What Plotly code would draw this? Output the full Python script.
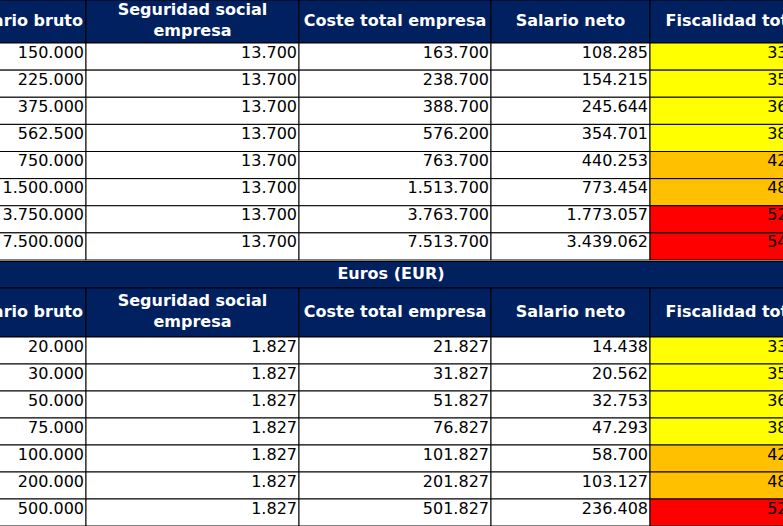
import plotly.graph_objects as go

# ---------------- data ----------------
band_label = "Euros (EUR)"
headers = ["Salario bruto", "Seguridad social<br>empresa", "Coste total empresa",
           "Salario neto", "Fiscalidad total"]

bruto_1 = [150000, 225000, 375000, 562500, 750000, 1500000, 3750000, 7500000]
ss_1 = [13700, 13700, 13700, 13700, 13700, 13700, 13700, 13700]
coste_1 = [163700, 238700, 388700, 576200, 763700, 1513700, 3763700, 7513700]
neto_1 = [108285, 154215, 245644, 354701, 440253, 773454, 1773057, 3439062]
fiscal_1 = [33.9, 35.4, 36.8, 38.4, 42.4, 48.9, 52.9, 54.2]

bruto_2 = [20000, 30000, 50000, 75000, 100000, 200000, 500000]
ss_2 = [1827, 1827, 1827, 1827, 1827, 1827, 1827]
coste_2 = [21827, 31827, 51827, 76827, 101827, 201827, 501827]
neto_2 = [14438, 20562, 32753, 47293, 58700, 103127, 236408]
fiscal_2 = [33.9, 35.4, 36.8, 38.4, 42.4, 48.9, 52.9]

# ---------------- style / layout ----------------
W, H = 783, 526
NAVY = "#002060"
FONT = "DejaVu Sans"
col_edges = [-38, 86, 299, 491, 650, 820]
hdr1 = (0, 43)
row_h1 = 27.125
band = (261.5, 288)
hdr2 = (288, 337)
row_h2 = 27.0
pad = 2
data_shift = -3
DATA_SIZE = 16
HEAD_SIZE = 16


def fmt(v):
    return f"{v:,}".replace(",", ".")


def fmt_pct(v):
    return f"{v:.1f}%".replace(".", ",")


def fiscal_color(v):
    if v < 40:
        return "#FFFF00"
    if v < 50:
        return "#FFC000"
    return "#FF0000"


shapes = []
hx, hy, ht = [], [], []
dx, dy, dt = [], [], []


def rect(x0, x1, y0, y1, fill):
    shapes.append(dict(type="rect", xref="x", yref="y", x0=x0, x1=x1, y0=y0, y1=y1,
                       fillcolor=fill, line=dict(color="black", width=1), layer="below"))


def header_row(y0, y1):
    for i, h in enumerate(headers):
        rect(col_edges[i], col_edges[i + 1], y0, y1, NAVY)
        hx.append((col_edges[i] + col_edges[i + 1]) / 2)
        hy.append((y0 + y1) / 2)
        ht.append(h)


def data_block(y_start, rh, cols, fiscal):
    n = len(cols[0])
    for r in range(n):
        y0 = y_start + r * rh
        y1 = y0 + rh
        vals = [fmt(c[r]) for c in cols] + [fmt_pct(fiscal[r])]
        fills = ["white"] * len(cols) + [fiscal_color(fiscal[r])]
        for i, v in enumerate(vals):
            rect(col_edges[i], col_edges[i + 1], y0, y1, fills[i])
            dx.append(col_edges[i + 1] - pad)
            dy.append((y0 + y1) / 2 + data_shift)
            dt.append(v)


header_row(*hdr1)
data_block(hdr1[1], row_h1, [bruto_1, ss_1, coste_1, neto_1], fiscal_1)
rect(col_edges[0], col_edges[-1], band[0], band[1], NAVY)
header_row(*hdr2)
data_block(hdr2[1], row_h2, [bruto_2, ss_2, coste_2, neto_2], fiscal_2)

fig = go.Figure()
fig.add_trace(go.Scatter(x=hx, y=hy, text=ht, mode="text", textposition="middle center",
                         textfont=dict(family=FONT, size=HEAD_SIZE, color="white", weight="bold"),
                         hoverinfo="skip", showlegend=False))
fig.add_trace(go.Scatter(x=[(col_edges[0] + col_edges[-1]) / 2], y=[(band[0] + band[1]) / 2],
                         text=[band_label], mode="text", textposition="middle center",
                         textfont=dict(family=FONT, size=HEAD_SIZE, color="white", weight="bold"),
                         hoverinfo="skip", showlegend=False))
fig.add_trace(go.Scatter(x=dx, y=dy, text=dt, mode="text", textposition="middle left",
                         textfont=dict(family=FONT, size=DATA_SIZE, color="black"),
                         hoverinfo="skip", showlegend=False))

fig.update_layout(
    width=W, height=H, autosize=False,
    margin=dict(l=0, r=0, t=0, b=0, pad=0),
    paper_bgcolor="white", plot_bgcolor="white",
    shapes=shapes,
    xaxis=dict(range=[0, W], visible=False, fixedrange=True),
    yaxis=dict(range=[H, 0], visible=False, fixedrange=True),
)
fig.write_html("out.html", config={"displayModeBar": False},
               post_script="document.body.style.margin='0';document.body.style.overflow='hidden';")
